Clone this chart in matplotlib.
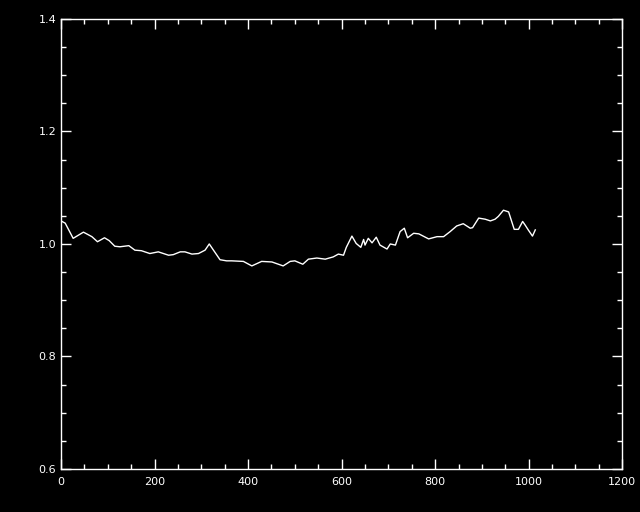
import numpy as np
import matplotlib
matplotlib.use('Agg')
import matplotlib.pyplot as plt
from matplotlib.ticker import MultipleLocator

# 曲线数据
x_vals = [0, 9, 26, 48, 66, 78, 93, 103, 115, 126, 145, 158, 172, 190, 208,
          230, 240, 255, 265, 280, 294, 308, 317, 326, 340, 354, 365, 390,
          408, 429, 451, 475, 490, 500, 517, 529, 547, 565, 582, 593, 604,
          610, 622, 631, 641, 647, 650, 657, 665, 674, 682, 697, 704, 715,
          725, 734, 741, 754, 765, 786, 804, 818, 832, 846, 860, 875, 880,
          893, 907, 918, 928, 935, 946, 957, 969, 978, 987, 992, 999, 1008,
          1014]
y_vals = [1.041, 1.037, 1.010, 1.021, 1.013, 1.004, 1.011, 1.006, 0.996,
          0.995, 0.997, 0.989, 0.988, 0.983, 0.986, 0.980, 0.981, 0.986,
          0.986, 0.982, 0.983, 0.989, 1.000, 0.989, 0.972, 0.970, 0.970,
          0.969, 0.961, 0.969, 0.968, 0.961, 0.969, 0.970, 0.964, 0.973,
          0.975, 0.973, 0.977, 0.982, 0.980, 0.994, 1.014, 1.001, 0.994,
          1.008, 0.998, 1.010, 1.002, 1.012, 0.998, 0.991, 1.000, 0.998,
          1.022, 1.028, 1.011, 1.019, 1.018, 1.009, 1.013, 1.013, 1.022,
          1.032, 1.036, 1.028, 1.029, 1.046, 1.044, 1.041, 1.044, 1.049,
          1.060, 1.057, 1.026, 1.026, 1.040, 1.034, 1.025, 1.014, 1.025]

x_ticks = [0, 200, 400, 600, 800, 1000, 1200]
y_ticks = [0.6, 0.8, 1.0, 1.2, 1.4]

fig = plt.figure(figsize=(6.4, 5.12), dpi=100, facecolor='black')
ax = fig.add_axes([0.0953, 0.084, 0.877, 0.879], facecolor='black')

ax.plot(x_vals, y_vals, color='white', linewidth=1.0)

ax.set_xlim(0, 1200)
ax.set_ylim(0.6, 1.4)
ax.set_xticks(x_ticks)
ax.set_yticks(y_ticks)
ax.set_yticklabels([f'{v:.1f}' for v in y_ticks])
ax.xaxis.set_minor_locator(MultipleLocator(50))
ax.yaxis.set_minor_locator(MultipleLocator(0.05))

for s in ax.spines.values():
    s.set_color('white')
    s.set_linewidth(1.0)

ax.tick_params(which='both', direction='in', top=True, right=True,
               colors='white', labelsize=8)
ax.tick_params(which='major', length=7.2, width=1)
ax.tick_params(which='minor', length=3.6, width=1)
ax.tick_params(axis='x', pad=6)

plt.savefig('out.png', dpi=100, facecolor='black')
plt.close()
